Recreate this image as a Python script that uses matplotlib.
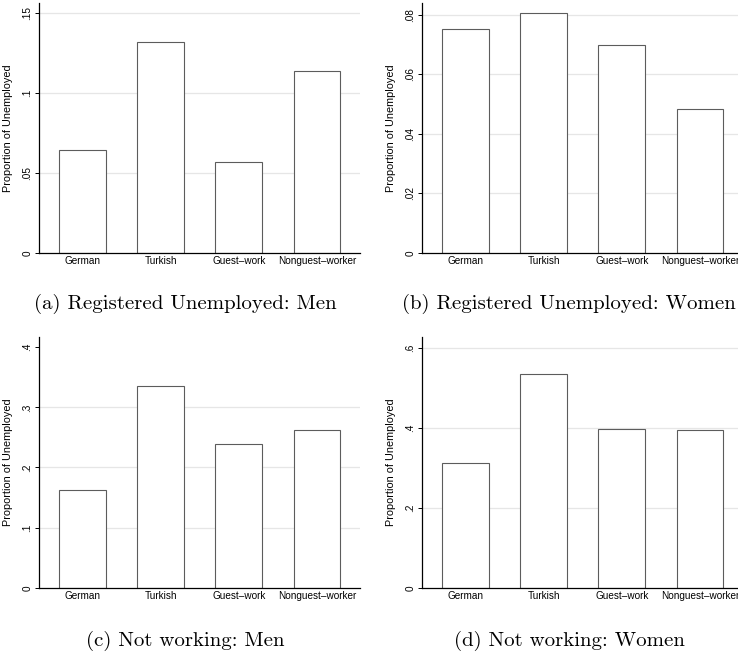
import matplotlib
matplotlib.use("Agg")
import matplotlib.pyplot as plt
import numpy as np

categories = ["German", "Turkish", "Guest\u2013work", "Nonguest\u2013worker"]

reg_men = [0.0646, 0.1317, 0.0571, 0.1140]
reg_women = [0.0753, 0.0806, 0.0697, 0.0482]
notwork_men = [0.162, 0.335, 0.239, 0.262]
notwork_women = [0.3125, 0.535, 0.397, 0.394]

ticks_a = [0, 0.05, 0.10, 0.15]
labels_a = ["0", ".05", ".1", ".15"]
ticks_b = [0, 0.02, 0.04, 0.06, 0.08]
labels_b = ["0", ".02", ".04", ".06", ".08"]
ticks_c = [0, 0.1, 0.2, 0.3, 0.4]
labels_c = ["0", ".1", ".2", ".3", ".4"]
ticks_d = [0, 0.2, 0.4, 0.6]
labels_d = ["0", ".2", ".4", ".6"]

captions = [
    "(a) Registered Unemployed: Men",
    "(b) Registered Unemployed: Women",
    "(c) Not working: Men",
    "(d) Not working: Women",
]

W, H = 738, 653
fig = plt.figure(figsize=(W / 100, H / 100), dpi=100)
plt.rcParams['font.family'] = ['Liberation Sans', 'DejaVu Sans']


def px_axes(left, top, right, bottom):
    return fig.add_axes([left / W, 1 - bottom / H, (right - left) / W, (bottom - top) / H])


def draw_panel(ax, values, ticks, labels, ymax, grid_vals):
    x = np.arange(len(categories))
    for g in grid_vals:
        ax.axhline(g, color='#e6e6e6', linewidth=0.9, zorder=0)
    ax.bar(x, values, width=0.6, color='white', edgecolor='#5c5c5c',
           linewidth=0.8, zorder=2)
    ax.set_xlim(-0.55, 3.55)
    ax.set_ylim(0, ymax)
    ax.set_xticks(x)
    ax.set_xticklabels(categories, fontsize=7.2)
    ax.tick_params(axis='x', length=0, pad=2.5)
    ax.set_yticks(ticks)
    ax.set_yticklabels(labels, fontsize=7.2, rotation=90, va='center')
    ax.tick_params(axis='y', length=3, width=0.7, pad=2)
    ax.set_ylabel('Proportion of Unemployed', fontsize=7.8)
    ax.yaxis.set_label_coords(-0.082, 0.5)
    for s in ('top', 'right'):
        ax.spines[s].set_visible(False)
    for s in ('left', 'bottom'):
        ax.spines[s].set_linewidth(0.9)
        ax.spines[s].set_zorder(3)


ax_a = px_axes(39.3, 3.3, 360, 253)
draw_panel(ax_a, reg_men, ticks_a, labels_a, 0.156, ticks_a[1:])
ax_b = px_axes(422.3, 3.3, 743, 253)
draw_panel(ax_b, reg_women, ticks_b, labels_b, 0.0838, ticks_b[1:])
ax_c = px_axes(39.3, 337.3, 360, 587.7)
draw_panel(ax_c, notwork_men, ticks_c, labels_c, 0.4166, ticks_c[1:-1])
ax_d = px_axes(422.3, 337.3, 743, 587.7)
draw_panel(ax_d, notwork_women, ticks_d, labels_d, 0.626, ticks_d[1:])

cap_pos = [(185, 304), (569, 304), (185, 641), (569, 641)]
for (cx, cy), txt in zip(cap_pos, captions):
    fig.text(cx / W, 1 - cy / H, txt, ha='center', va='center',
             fontsize=15, family='cmr10')

fig.savefig('out.png', dpi=100)
